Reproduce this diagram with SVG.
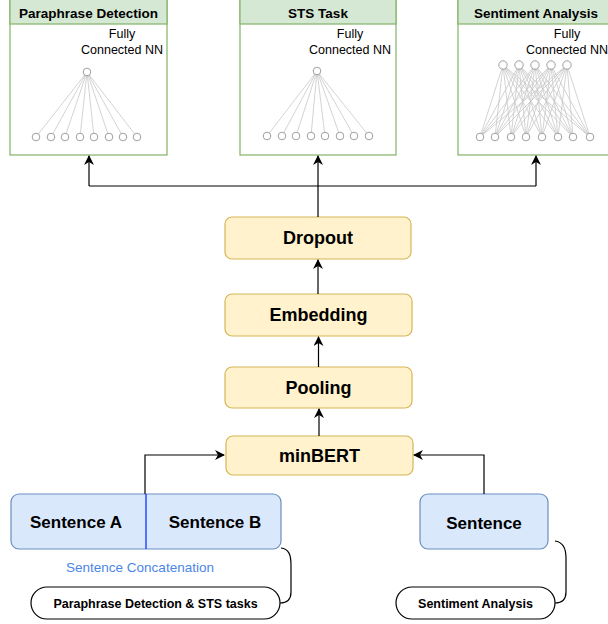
<svg xmlns="http://www.w3.org/2000/svg" width="608" height="624" viewBox="0 0 608 624">
  <defs>
    <marker id="arrow" viewBox="0 0 10 10" refX="9" refY="5" markerWidth="10" markerHeight="10" markerUnits="userSpaceOnUse" orient="auto">
      <path d="M0,0 L10,5 L0,10 L3,5 Z" fill="#000"/>
    </marker>
    <style>
      .task { fill: #ffffff; stroke: #82b366; stroke-width: 1.2; }
      .taskhead { fill: #d5e8d4; stroke: #82b366; stroke-width: 1.2; }
      .head { font-family: "Liberation Sans", Arial, sans-serif; font-weight: bold; font-size: 13.5px; text-anchor: middle; fill: #000; }
      .fc { font-family: "Liberation Sans", Arial, sans-serif; font-size: 12.5px; text-anchor: middle; fill: #000; }
      .layer { fill: #fff2cc; stroke: #d6b656; stroke-width: 1.2; }
      .layertxt { font-family: "Liberation Sans", Arial, sans-serif; font-weight: bold; font-size: 18px; text-anchor: middle; fill: #000; }
      .sent { fill: #dae8fc; stroke: #6c8ebf; stroke-width: 1.2; }
      .senttxt { font-family: "Liberation Sans", Arial, sans-serif; font-weight: bold; font-size: 17px; text-anchor: middle; fill: #000; }
      .pill { fill: #ffffff; stroke: #000; stroke-width: 1.2; }
      .pilltxt { font-family: "Liberation Sans", Arial, sans-serif; font-weight: bold; font-size: 12.5px; text-anchor: middle; fill: #000; }
      .edge { fill: none; stroke: #000; stroke-width: 1.2; }
      .brace { fill: none; stroke: #000; stroke-width: 1.2; }
      .nnl { stroke: #c8c8c8; stroke-width: 0.8; }
      .neuron { fill: #ffffff; stroke: #a0a0a0; stroke-width: 1; }
    </style>
  </defs>

  <!-- Task heads -->
  <g id="paraphrase-detection">
    <rect class="task" x="10" y="-2" width="157" height="157"/>
    <rect class="taskhead" x="10" y="-2" width="157" height="26"/>
    <text class="head" x="88.5" y="18">Paraphrase Detection</text>
    <text class="fc" x="122" y="38">Fully</text>
    <text class="fc" x="122" y="54">Connected NN</text>
    <g class="nnl">
      <line x1="87" y1="72" x2="36" y2="137"/><line x1="87" y1="72" x2="51" y2="137"/>
      <line x1="87" y1="72" x2="65" y2="137"/><line x1="87" y1="72" x2="80" y2="137"/>
      <line x1="87" y1="72" x2="94" y2="137"/><line x1="87" y1="72" x2="109" y2="137"/>
      <line x1="87" y1="72" x2="123" y2="137"/><line x1="87" y1="72" x2="137" y2="137"/>
    </g>
    <circle class="neuron" cx="87" cy="72" r="3.8"/>
    <circle class="neuron" cx="36" cy="137" r="3.8"/><circle class="neuron" cx="51" cy="137" r="3.8"/>
    <circle class="neuron" cx="65" cy="137" r="3.8"/><circle class="neuron" cx="80" cy="137" r="3.8"/>
    <circle class="neuron" cx="94" cy="137" r="3.8"/><circle class="neuron" cx="109" cy="137" r="3.8"/>
    <circle class="neuron" cx="123" cy="137" r="3.8"/><circle class="neuron" cx="137" cy="137" r="3.8"/>
  </g>

  <g id="sts-task">
    <rect class="task" x="240" y="-2" width="156" height="157"/>
    <rect class="taskhead" x="240" y="-2" width="156" height="26"/>
    <text class="head" x="318" y="18">STS Task</text>
    <text class="fc" x="350" y="38">Fully</text>
    <text class="fc" x="350" y="54">Connected NN</text>
    <g class="nnl">
      <line x1="317" y1="71" x2="267" y2="136"/><line x1="317" y1="71" x2="282" y2="136"/>
      <line x1="317" y1="71" x2="296" y2="136"/><line x1="317" y1="71" x2="311" y2="136"/>
      <line x1="317" y1="71" x2="325" y2="136"/><line x1="317" y1="71" x2="340" y2="136"/>
      <line x1="317" y1="71" x2="354" y2="136"/><line x1="317" y1="71" x2="369" y2="136"/>
    </g>
    <circle class="neuron" cx="317" cy="71" r="3.8"/>
    <circle class="neuron" cx="267" cy="136" r="3.8"/><circle class="neuron" cx="282" cy="136" r="3.8"/>
    <circle class="neuron" cx="296" cy="136" r="3.8"/><circle class="neuron" cx="311" cy="136" r="3.8"/>
    <circle class="neuron" cx="325" cy="136" r="3.8"/><circle class="neuron" cx="340" cy="136" r="3.8"/>
    <circle class="neuron" cx="354" cy="136" r="3.8"/><circle class="neuron" cx="369" cy="136" r="3.8"/>
  </g>

  <g id="sentiment-analysis">
    <rect class="task" x="458" y="-2" width="160" height="157"/>
    <rect class="taskhead" x="458" y="-2" width="160" height="26"/>
    <text class="head" x="536" y="18">Sentiment Analysis</text>
    <text class="fc" x="567" y="38">Fully</text>
    <text class="fc" x="567" y="54">Connected NN</text>
    <g class="nnl">
      <!-- every upper unit joins every lower unit -->
      <line x1="503" y1="65" x2="480" y2="137"/><line x1="503" y1="65" x2="495" y2="137"/><line x1="503" y1="65" x2="511" y2="137"/><line x1="503" y1="65" x2="526" y2="137"/><line x1="503" y1="65" x2="542" y2="137"/><line x1="503" y1="65" x2="558" y2="137"/><line x1="503" y1="65" x2="573" y2="137"/><line x1="503" y1="65" x2="590" y2="137"/>
      <line x1="519" y1="65" x2="480" y2="137"/><line x1="519" y1="65" x2="495" y2="137"/><line x1="519" y1="65" x2="511" y2="137"/><line x1="519" y1="65" x2="526" y2="137"/><line x1="519" y1="65" x2="542" y2="137"/><line x1="519" y1="65" x2="558" y2="137"/><line x1="519" y1="65" x2="573" y2="137"/><line x1="519" y1="65" x2="590" y2="137"/>
      <line x1="535" y1="65" x2="480" y2="137"/><line x1="535" y1="65" x2="495" y2="137"/><line x1="535" y1="65" x2="511" y2="137"/><line x1="535" y1="65" x2="526" y2="137"/><line x1="535" y1="65" x2="542" y2="137"/><line x1="535" y1="65" x2="558" y2="137"/><line x1="535" y1="65" x2="573" y2="137"/><line x1="535" y1="65" x2="590" y2="137"/>
      <line x1="551" y1="65" x2="480" y2="137"/><line x1="551" y1="65" x2="495" y2="137"/><line x1="551" y1="65" x2="511" y2="137"/><line x1="551" y1="65" x2="526" y2="137"/><line x1="551" y1="65" x2="542" y2="137"/><line x1="551" y1="65" x2="558" y2="137"/><line x1="551" y1="65" x2="573" y2="137"/><line x1="551" y1="65" x2="590" y2="137"/>
      <line x1="567" y1="65" x2="480" y2="137"/><line x1="567" y1="65" x2="495" y2="137"/><line x1="567" y1="65" x2="511" y2="137"/><line x1="567" y1="65" x2="526" y2="137"/><line x1="567" y1="65" x2="542" y2="137"/><line x1="567" y1="65" x2="558" y2="137"/><line x1="567" y1="65" x2="573" y2="137"/><line x1="567" y1="65" x2="590" y2="137"/>
    </g>
    <circle class="neuron" cx="503" cy="65" r="4.2"/><circle class="neuron" cx="519" cy="65" r="4.2"/>
    <circle class="neuron" cx="535" cy="65" r="4.2"/><circle class="neuron" cx="551" cy="65" r="4.2"/>
    <circle class="neuron" cx="567" cy="65" r="4.2"/>
    <circle class="neuron" cx="480" cy="137" r="3.8"/><circle class="neuron" cx="495" cy="137" r="3.8"/>
    <circle class="neuron" cx="511" cy="137" r="3.8"/><circle class="neuron" cx="526" cy="137" r="3.8"/>
    <circle class="neuron" cx="542" cy="137" r="3.8"/><circle class="neuron" cx="558" cy="137" r="3.8"/>
    <circle class="neuron" cx="573" cy="137" r="3.8"/><circle class="neuron" cx="590" cy="137" r="3.8"/>
  </g>

  <!-- Encoder stack -->
  <g id="dropout">
    <rect class="layer" x="225" y="217" width="186" height="42" rx="7"/>
    <text class="layertxt" x="318" y="244">Dropout</text>
  </g>
  <g id="embedding">
    <rect class="layer" x="225" y="294" width="187" height="42" rx="7"/>
    <text class="layertxt" x="318.5" y="321">Embedding</text>
  </g>
  <g id="pooling">
    <rect class="layer" x="225" y="367" width="187" height="41" rx="7"/>
    <text class="layertxt" x="318.5" y="394">Pooling</text>
  </g>
  <g id="minbert">
    <rect class="layer" x="226" y="436" width="187" height="39" rx="7"/>
    <text class="layertxt" x="319.5" y="462">minBERT</text>
  </g>

  <!-- Inputs -->
  <g id="sentence-pair">
    <rect class="sent" x="11" y="494" width="270" height="55" rx="8"/>
    <line x1="146" y1="494" x2="146" y2="549" stroke="#1f3fff" stroke-width="1.4"/>
    <text class="senttxt" x="76" y="528">Sentence A</text>
    <text class="senttxt" x="215" y="528">Sentence B</text>
    <text x="140" y="572" font-family="Liberation Sans, Arial, sans-serif" font-size="13.5px" text-anchor="middle" fill="#4a86e8">Sentence Concatenation</text>
  </g>
  <g id="sentence-single">
    <rect class="sent" x="420" y="494" width="128" height="55" rx="8"/>
    <text class="senttxt" x="484" y="529">Sentence</text>
  </g>

  <g id="pill-pair">
    <rect class="pill" x="31" y="587" width="249" height="32" rx="16"/>
    <text class="pilltxt" x="155.5" y="608">Paraphrase Detection &amp; STS tasks</text>
  </g>
  <g id="pill-sentiment">
    <rect class="pill" x="396" y="587" width="159" height="32" rx="16"/>
    <text class="pilltxt" x="475.5" y="608">Sentiment Analysis</text>
  </g>

  <!-- Connectors -->
  <g id="connectors">
    <path class="edge" d="M145,494 V455 H224" marker-end="url(#arrow)"/>
    <path class="edge" d="M484,494 V455 H414" marker-end="url(#arrow)"/>
    <path class="edge" d="M319,436 V409" marker-end="url(#arrow)"/>
    <path class="edge" d="M318.5,367 V337" marker-end="url(#arrow)"/>
    <path class="edge" d="M318,294 V260" marker-end="url(#arrow)"/>
    <path class="edge" d="M318,217 V156" marker-end="url(#arrow)"/>
    <path class="edge" d="M89,186 H536"/>
    <path class="edge" d="M89,186 V156" marker-end="url(#arrow)"/>
    <path class="edge" d="M536,186 V156" marker-end="url(#arrow)"/>
    <path class="brace" d="M281,548 C289,549 291,555 291,565 V592 C291,600 287,603 280,603"/>
    <path class="brace" d="M555,541 C563,542 566,548 566,558 V592 C566,600 562,603 555,603"/>
  </g>
</svg>
